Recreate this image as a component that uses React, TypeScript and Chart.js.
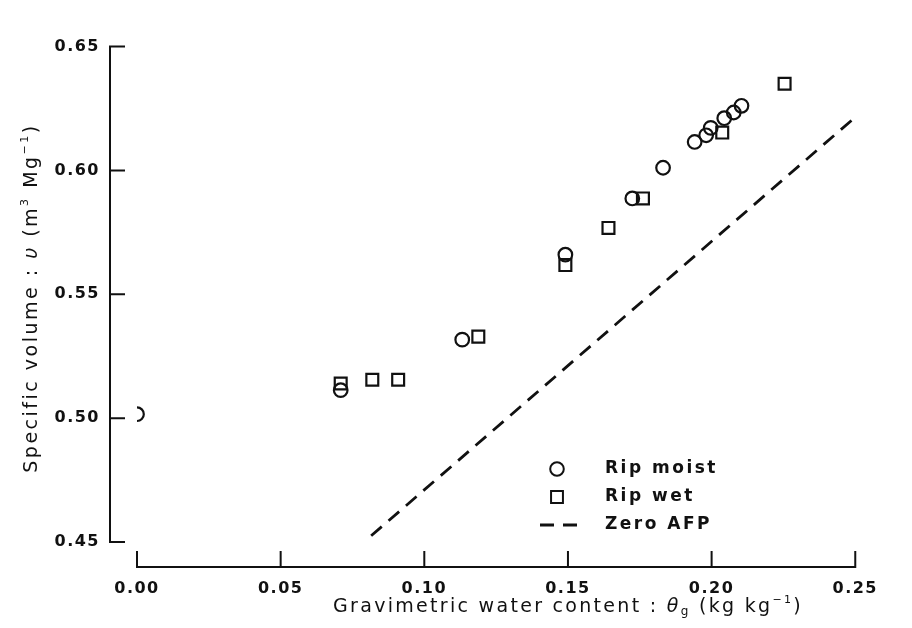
import React, { useEffect, useRef } from 'react';
import { Chart, registerables } from 'chart.js';

Chart.register(...registerables);

// ---- data ----
const moistTheta = [0.0, 0.0709, 0.1132, 0.1491, 0.1724, 0.1831, 0.1941, 0.1981, 0.1997, 0.2044, 0.2077, 0.2104];
const moistVolume = [0.5016, 0.5113, 0.5317, 0.566, 0.5887, 0.6011, 0.6115, 0.6142, 0.6172, 0.6211, 0.6234, 0.6261];
const wetTheta = [0.0709, 0.0819, 0.0909, 0.1188, 0.1491, 0.1641, 0.1761, 0.2037, 0.2254];
const wetVolume = [0.514, 0.5155, 0.5155, 0.5329, 0.5618, 0.5768, 0.5887, 0.6153, 0.635];
const afpTheta = [0.0815, 0.249];
const afpVolume = [0.4525, 0.6205];
const xTickValues = [0, 0.05, 0.1, 0.15, 0.2, 0.25];
const yTickValues = [0.45, 0.5, 0.55, 0.6, 0.65];
const seriesLabels = ['Rip moist', 'Rip wet', 'Zero AFP'];

const FONT = '"DejaVu Sans", sans-serif';
const INK = '#111';

type Seg = { t: string; italic?: boolean; size?: number; dy?: number };

function drawRich(ctx: CanvasRenderingContext2D, segs: Seg[], cx: number, cy: number, base: number) {
  const fonts = segs.map(s => `${s.italic ? 'italic ' : ''}${s.size ?? base}px ${FONT}`);
  let total = 0;
  const widths = segs.map((s, i) => {
    ctx.font = fonts[i];
    const w = ctx.measureText(s.t).width;
    total += w;
    return w;
  });
  let x = cx - total / 2;
  ctx.textAlign = 'left';
  ctx.textBaseline = 'middle';
  segs.forEach((s, i) => {
    ctx.font = fonts[i];
    ctx.fillText(s.t, x, cy + (s.dy || 0));
    x += widths[i];
  });
}

const spacingPlugin = {
  id: 'spacing',
  beforeDraw(chart: any) {
    chart.ctx.letterSpacing = '1.5px';
  },
};

const axesPlugin = {
  id: 'offsetAxes',
  afterDraw(chart: any) {
    const { ctx, chartArea } = chart;
    const xs = chart.scales.x;
    const ys = chart.scales.y;
    ctx.save();
    ctx.strokeStyle = INK;
    ctx.lineWidth = 2;
    ctx.lineCap = 'square';
    // y axis (offset left of plot)
    const ax = chartArea.left - 27;
    ctx.beginPath();
    ctx.moveTo(ax, ys.getPixelForValue(yTickValues[0]));
    ctx.lineTo(ax, ys.getPixelForValue(yTickValues[yTickValues.length - 1]));
    ys.ticks.forEach((t: any) => {
      const py = ys.getPixelForValue(t.value);
      ctx.moveTo(ax, py);
      ctx.lineTo(ax + 14, py);
    });
    // x axis (offset below plot)
    const ay = chartArea.bottom + 25;
    ctx.moveTo(xs.getPixelForValue(xTickValues[0]), ay);
    ctx.lineTo(xs.getPixelForValue(xTickValues[xTickValues.length - 1]), ay);
    xs.ticks.forEach((t: any) => {
      const px = xs.getPixelForValue(t.value);
      ctx.moveTo(px, ay);
      ctx.lineTo(px, ay - 15);
    });
    ctx.stroke();

    // axis titles
    ctx.fillStyle = INK;
    ctx.letterSpacing = '2.3px';
    drawRich(
      ctx,
      [
        { t: 'Gravimetric water content : ' },
        { t: 'θ', italic: true },
        { t: 'g', size: 12, dy: 5 },
        { t: ' (kg kg' },
        { t: '−1', size: 11, dy: -7 },
        { t: ')' },
      ],
      568,
      607,
      19
    );
    ctx.letterSpacing = '2.5px';
    ctx.translate(32, 298);
    ctx.rotate(-Math.PI / 2);
    drawRich(
      ctx,
      [
        { t: 'Specific volume : ' },
        { t: 'υ', italic: true },
        { t: ' (m' },
        { t: '3', size: 11, dy: -7 },
        { t: ' Mg' },
        { t: '−1', size: 11, dy: -7 },
        { t: ')' },
      ],
      0,
      0,
      19
    );
    ctx.restore();
  },
};

const legendPlugin = {
  id: 'insideLegend',
  afterDatasetsDraw(chart: any) {
    const { ctx } = chart;
    ctx.save();
    ctx.letterSpacing = '2.5px';
    chart.data.datasets.forEach((ds: any, i: number) => {
      const y = 469 + i * 28;
      const sx = 557;
      ctx.strokeStyle = INK;
      ctx.lineWidth = 2;
      ctx.setLineDash([]);
      ctx.beginPath();
      if (ds.showLine) {
        ctx.setLineDash(ds.borderDash);
        ctx.lineWidth = ds.borderWidth;
        ctx.moveTo(sx - 17, y);
        ctx.lineTo(sx + 20, y);
      } else if (ds.pointStyle === 'rect') {
        const h = ds.pointRadius * Math.SQRT1_2;
        ctx.rect(sx - h, y - h, 2 * h, 2 * h);
      } else {
        ctx.arc(sx, y, ds.pointRadius, 0, Math.PI * 2);
      }
      ctx.stroke();
      ctx.fillStyle = INK;
      ctx.font = `bold 17px ${FONT}`;
      ctx.textAlign = 'left';
      ctx.textBaseline = 'middle';
      ctx.fillText(ds.label, 605, y);
    });
    ctx.restore();
  },
};

export default function App() {
  const ref = useRef<HTMLCanvasElement | null>(null);

  useEffect(() => {
    document.body.style.margin = '0';
    const canvas = ref.current!;
    const chart = new Chart(canvas, {
      type: 'scatter',
      data: {
        datasets: [
          {
            label: seriesLabels[0],
            data: moistTheta.map((x, i) => ({ x, y: moistVolume[i] })),
            pointStyle: 'circle',
            pointRadius: 6.8,
            borderWidth: 2.2,
            borderColor: INK,
            backgroundColor: 'rgba(0,0,0,0)',
            showLine: false,
          },
          {
            label: seriesLabels[1],
            data: wetTheta.map((x, i) => ({ x, y: wetVolume[i] })),
            pointStyle: 'rect',
            pointRadius: 8.4,
            borderWidth: 2.2,
            borderColor: INK,
            backgroundColor: 'rgba(0,0,0,0)',
            showLine: false,
          },
          {
            label: seriesLabels[2],
            data: afpTheta.map((x, i) => ({ x, y: afpVolume[i] })),
            showLine: true,
            borderDash: [14, 9],
            borderWidth: 2.8,
            borderColor: INK,
            pointRadius: 0,
            fill: false,
          } as any,
        ],
      },
      options: {
        responsive: false,
        animation: false,
        events: [],
        layout: { padding: { top: 23, right: 24, left: 0, bottom: 0 } },
        plugins: {
          legend: { display: false },
          tooltip: { enabled: false },
        },
        scales: {
          x: {
            type: 'linear',
            min: 0,
            max: 0.25,
            afterBuildTicks: (s: any) => {
              s.ticks = xTickValues.map(v => ({ value: v }));
            },
            afterFit: (s: any) => {
              s.height = 86;
            },
            grid: { display: false, drawTicks: false },
            border: { display: false },
            ticks: {
              padding: 37,
              color: INK,
              font: { family: FONT, size: 16, weight: 'bold' },
              callback: (v: any) => Number(v).toFixed(2),
            },
          },
          y: {
            type: 'linear',
            min: 0.45,
            max: 0.65,
            afterBuildTicks: (s: any) => {
              s.ticks = yTickValues.map(v => ({ value: v }));
            },
            afterFit: (s: any) => {
              s.width = 137;
            },
            grid: { display: false, drawTicks: false },
            border: { display: false },
            ticks: {
              padding: 37,
              color: INK,
              font: { family: FONT, size: 16, weight: 'bold' },
              callback: (v: any) => Number(v).toFixed(2),
            },
          },
        },
      },
      plugins: [spacingPlugin, axesPlugin, legendPlugin],
    });
    return () => chart.destroy();
  }, []);

  return (
    <div style={{ width: 912, height: 628, background: '#fff' }}>
      <canvas ref={ref} width={912} height={628} style={{ display: 'block' }} />
    </div>
  );
}
